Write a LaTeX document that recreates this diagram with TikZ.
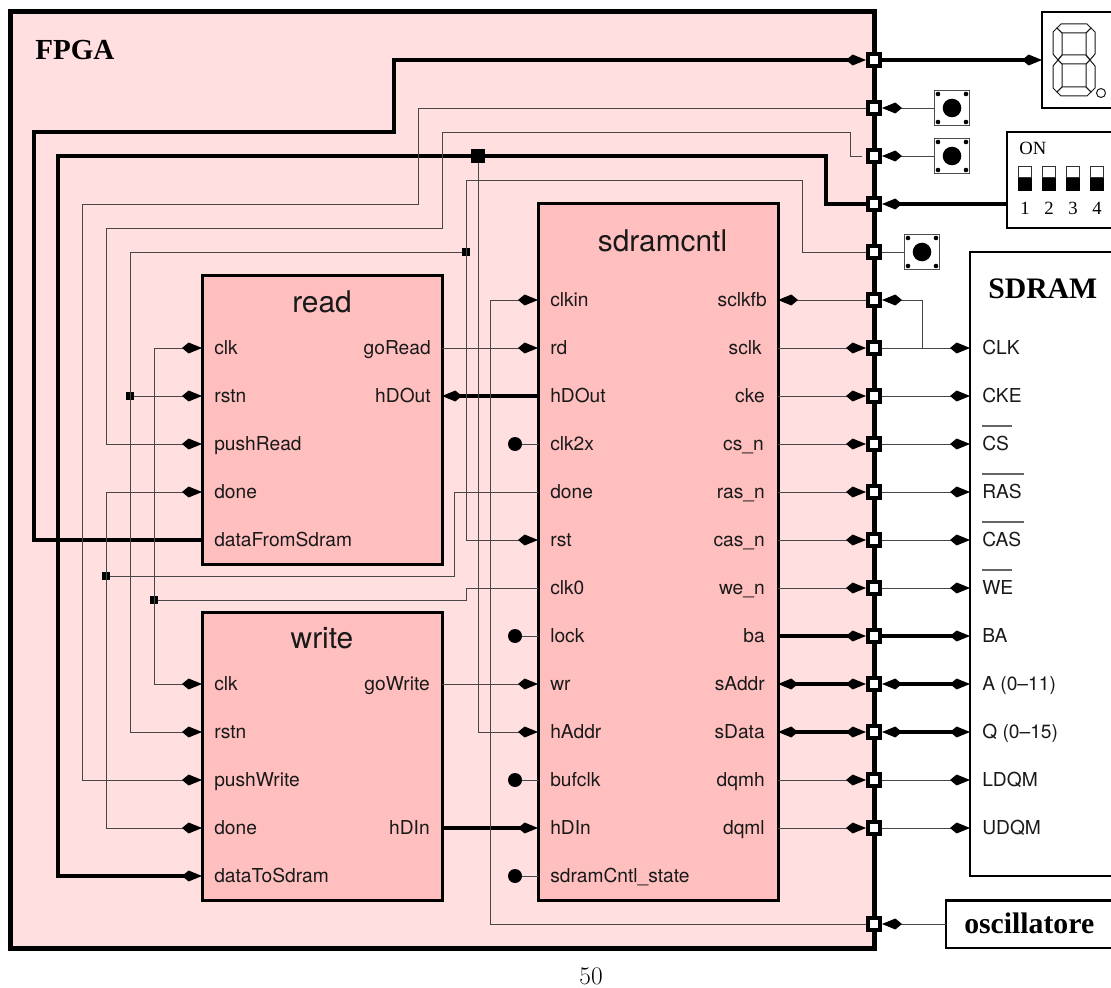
\documentclass[tikz,border=0pt]{standalone}
\usepackage{fontspec}
\setsansfont{TeX Gyre Heros}
\newfontfamily\tms{Liberation Serif}
\usetikzlibrary{arrows.meta}
\tikzset{
  kk/.tip={Kite[length=15pt,width=8.2pt,inset=5pt,color=black]},
  thinw/.style={line width=0.72pt,draw=black!72},
  busw/.style={line width=3.3pt,draw=black},
  fpga/.style={draw=black,fill=fpgac,line width=3.75pt,minimum width=648pt,minimum height=702pt,inner sep=0pt},
  block/.style={draw=black,fill=blockc,line width=2.25pt,minimum width=180pt,inner sep=0pt},
  pad/.style={draw=black,fill=white,line width=3pt,minimum size=9pt,inner sep=0pt},
  jsmall/.style={fill=black,minimum size=5.5pt,inner sep=0pt,outer sep=0pt},
  jbig/.style={fill=black,minimum size=10pt,inner sep=0pt,outer sep=0pt},
  dotc/.style={circle,fill=black,minimum size=10.5pt,inner sep=0pt,outer sep=0pt},
  pintext/.style={font=\sffamily\fontsize{14.4}{16}\selectfont,inner sep=0pt,text=black!90},
  title/.style={font=\sffamily\fontsize{22.4}{24}\selectfont,inner sep=0pt,text=black!90,anchor=base},
  bold/.style={font=\tms\bfseries\fontsize{22.3}{24}\selectfont,inner sep=0pt},
  dev/.style={draw=black,line width=2.1pt},
  seg/.style={draw=black!90,line width=0.75pt,line join=miter},
  btn/.style={draw=black!70,fill=white,line width=1.2pt,minimum size=26pt,inner sep=0pt},
  over/.style={draw=black!60,line width=1pt},
  dip/.style={font=\tms\fontsize{14}{16}\selectfont,inner sep=0pt},
}
\definecolor{fpgac}{HTML}{FFDFDF}
\definecolor{blockc}{HTML}{FFBFBF}
\newcommand{\lpin}[4]{\coordinate (#1) at (#2,#3); \node[pintext,anchor=base west] (#1-t) at (#2+12,#3+6) {#4};}
\newcommand{\rpin}[5]{\coordinate (#1) at (#2,#3); \node[pintext,anchor=base east] (#1-t) at (#4,#3+6) {#5};}
\newcommand{\tbtn}[3]{%
  \node[btn] (#1) at (#2,#3) {};
  \fill[black] (#2,#3) circle[radius=9.3];
  \fill[black] (#2-14,#3-14) circle[radius=2.3];
  \fill[black] (#2+14,#3-14) circle[radius=2.3];
  \fill[black] (#2-14,#3+14) circle[radius=2.3];
  \fill[black] (#2+14,#3+14) circle[radius=2.3];}
\newcommand{\dipsw}[2]{%
  \draw[black!80,line width=0.8pt,fill=white] (#1-6.5,166.5) rectangle (#1+6.5,178);
  \fill[black] (#1-7,178) rectangle (#1+7,191);
  \node[dip] (n#2) at (#1,208) {#2};}
\begin{document}
\begin{tikzpicture}[x=0.75pt,y=-0.75pt]
\useasboundingbox (0,0) rectangle (1111,988);
\fill[white] (0,0) rectangle (1111,988);

% FPGA
\node[fpga] (fpga) at (442,480) {};
\node[bold,anchor=base west,font=\tms\bfseries\fontsize{21.8}{24}\selectfont] (fpgat) at (35,60) {FPGA};

% Blocks
\node[block,minimum height=216pt] (read) at (322,420) {};
\node[block,minimum height=216pt] (write) at (322,756) {};
\node[block,minimum height=522pt] (sdram) at (658,552) {};
\node[title] (readt) at (322,312) {read};
\node[title] (writet) at (322,648) {write};
\node[title] (sdramt) at (662.5,252) {sdramcntl};

% Read pins
\lpin{r-clk}{202}{348}{clk}
\lpin{r-rstn}{202}{396}{rstn}
\lpin{r-push}{202}{444}{pushRead}
\lpin{r-done}{202}{492}{done}
\lpin{r-data}{202}{540}{dataFromSdram}
\rpin{r-go}{442}{348}{431}{goRead}
\rpin{r-hd}{442}{396}{431}{hDOut}

% Write pins
\lpin{w-clk}{202}{684}{clk}
\lpin{w-rstn}{202}{732}{rstn}
\lpin{w-push}{202}{780}{pushWrite}
\lpin{w-done}{202}{828}{done}
\lpin{w-data}{202}{876}{dataToSdram}
\rpin{w-go}{442}{684}{430}{goWrite}
\rpin{w-hd}{442}{828}{430}{hDIn}

% Sdramcntl pins
\lpin{s-clkin}{538}{300}{clkin}
\lpin{s-rd}{538}{348}{rd}
\lpin{s-hd}{538}{396}{hDOut}
\lpin{s-clk2x}{538}{444}{clk2x}
\lpin{s-done}{538}{492}{done}
\lpin{s-rst}{538}{540}{rst}
\lpin{s-clk0}{538}{588}{clk0}
\lpin{s-lock}{538}{636}{lock}
\lpin{s-wr}{538}{684}{wr}
\lpin{s-haddr}{538}{732}{hAddr}
\lpin{s-bufclk}{538}{780}{bufclk}
\lpin{s-hdin}{538}{828}{hDIn}
\lpin{s-state}{538}{876}{sdramCntl\_state}
\rpin{s-sclkfb}{778}{300}{767}{sclkfb}
\rpin{s-sclk}{778}{348}{762}{sclk}
\rpin{s-cke}{778}{396}{765}{cke}
\rpin{s-cs}{778}{444}{764}{cs\_n}
\rpin{s-ras}{778}{492}{765}{ras\_n}
\rpin{s-cas}{778}{540}{765}{cas\_n}
\rpin{s-we}{778}{588}{765}{we\_n}
\rpin{s-ba}{778}{636}{765}{ba}
\rpin{s-saddr}{778}{684}{765}{sAddr}
\rpin{s-sdata}{778}{732}{765}{sData}
\rpin{s-dqmh}{778}{780}{765}{dqmh}
\rpin{s-dqml}{778}{828}{765}{dqml}

% SDRAM chip (open on the right, cut by the page edge)
\draw[dev,fill=white] (1111,252) -- (970,252) -- (970,876) -- (1111,876);
\node[bold,anchor=base west] (chipt) at (988,298) {SDRAM};
\lpin{c-clk}{970}{348}{CLK}
\lpin{c-cke}{970}{396}{CKE}
\lpin{c-cs}{970}{444}{CS}
\lpin{c-ras}{970}{492}{RAS}
\lpin{c-cas}{970}{540}{CAS}
\lpin{c-we}{970}{588}{WE}
\lpin{c-ba}{970}{636}{BA}
\lpin{c-a}{970}{684}{A (0--11)}
\lpin{c-q}{970}{732}{Q (0--15)}
\lpin{c-ldqm}{970}{780}{LDQM}
\lpin{c-udqm}{970}{828}{UDQM}
\draw[over] (982,426) -- ++(30,0);
\draw[over] (982,474) -- ++(42,0);
\draw[over] (982,522) -- ++(42,0);
\draw[over] (982,570) -- ++(30,0);

% Oscillator
\draw[dev,fill=white] (1111,900.5) -- (946,900.5) -- (946,948) -- (1111,948);
\node[bold,anchor=base west] (osct) at (964,933) {oscillatore};
\coordinate (osc) at (946,924);

% 7 segment display
\draw[dev,fill=white] (1111,12) -- (1042,12) -- (1042,108) -- (1111,108);
\coordinate (disp) at (1042,60);
\draw[seg] (1057,28) -- (1061,24) -- (1087,24) -- (1091,28) -- (1086,33) -- (1062,33) -- cycle;
\draw[seg] (1057,28) -- (1053,32) -- (1053,54) -- (1058,60) -- (1062,55) -- (1062,33) -- cycle;
\draw[seg] (1091,28) -- (1095,32) -- (1095,54) -- (1090,60) -- (1086,55) -- (1086,33) -- cycle;
\draw[seg] (1058,60) -- (1062,55) -- (1086,55) -- (1090,60) -- (1086,64) -- (1062,64) -- cycle;
\draw[seg] (1058,60) -- (1053,66) -- (1053,88) -- (1057,92) -- (1062,87) -- (1062,64) -- cycle;
\draw[seg] (1090,60) -- (1095,66) -- (1095,88) -- (1091,92) -- (1086,87) -- (1086,64) -- cycle;
\draw[seg] (1057,92) -- (1061,96) -- (1087,96) -- (1091,92) -- (1086,87) -- (1062,87) -- cycle;
\draw[seg] (1101,93) circle[radius=4.5];

% DIP switch
\draw[dev,fill=white] (1111,132) -- (1007,132) -- (1007,228) -- (1111,228);
\coordinate (dipc) at (1007,204);
\node[dip,anchor=base west] (on) at (1019,155) {ON};
\dipsw{1025}{1}
\dipsw{1049}{2}
\dipsw{1073}{3}
\dipsw{1097}{4}

% Buttons
\tbtn{b1}{952}{108}
\tbtn{b2}{952}{156}
\tbtn{b3}{922}{252}

% Pads
\coordinate (p156end) at (862,156);
\foreach \y in {60,108,156,204,252,300,348,396,444,492,540,588,636,684,732,780,828,924}
  \node[pad] (p\y) at (874,\y) {};

% Junctions
\node[jbig] (jb) at (478,156) {};
\node[jsmall] (j1) at (466,252) {};
\node[jsmall] (j2) at (130,396) {};
\node[jsmall] (j3) at (106,576) {};
\node[jsmall] (j4) at (154,600) {};

% Thick nets
\draw[busw,-kk] (r-data) -- (34,540) -- (34,132) -- (394,132) -- (394,60) -- (p60.west);
\draw[busw,kk-] (w-data) -- (58,876) -- (58,156) -- (826,156) -- (826,204) -- (p204.west);
\draw[busw,-kk] (p60.east) -- (disp);
\draw[busw,-kk] (dipc) -- (p204.east);
\draw[busw,-kk] (s-hd) -- (r-hd);
\draw[busw,-kk] (w-hd) -- (s-hdin);

% Thin nets
\draw[thinw,-kk] (jb) -- (478,732) -- (s-haddr);
\draw[thinw,-kk] (p252.west) -- (802,252) -- (802,180) -- (466,180) -- (466,540) -- (s-rst);
\draw[thinw,-kk] (j1) -- (130,252) -- (130,732) -- (w-rstn);
\draw[thinw,-kk] (j2) -- (r-rstn);
\draw[thinw,-kk] (p108.west) -- (418,108) -- (418,204) -- (82,204) -- (82,780) -- (w-push);
\draw[thinw,-kk] (p156end) -- (850,156) -- (850,132) -- (442,132) -- (442,228) -- (106,228) -- (106,444) -- (r-push);
\draw[thinw,kk-kk] (r-clk) -- (154,348) -- (154,684) -- (w-clk);
\draw[thinw] (j4) -- (466,600) -- (466,588) -- (s-clk0);
\draw[thinw,kk-kk] (r-done) -- (106,492) -- (106,828) -- (w-done);
\draw[thinw] (j3) -- (454,576) -- (454,492) -- (s-done);
\draw[thinw,-kk] (p924.west) -- (490,924) -- (490,300) -- (s-clkin);
\draw[thinw,-kk] (r-go) -- (s-rd);
\draw[thinw,-kk] (w-go) -- (s-wr);

% Unconnected sdramcntl pins
\node[dotc] (d1) at (515,444) {};
\node[dotc] (d2) at (515,636) {};
\node[dotc] (d3) at (515,780) {};
\node[dotc] (d4) at (515,876) {};
\draw[thinw] (d1) -- (s-clk2x);
\draw[thinw] (d2) -- (s-lock);
\draw[thinw] (d3) -- (s-bufclk);
\draw[thinw] (d4) -- (s-state);

% Buttons and oscillator to pads
\draw[thinw,-kk] (b1.west) -- (p108.east);
\draw[thinw,-kk] (b2.west) -- (p156.east);
\draw[thinw] (b3.west) -- (p252.east);
\draw[thinw,-kk] (osc) -- (p924.east);

% Pads to sdramcntl and chip
\draw[thinw,-kk] (p300.west) -- (s-sclkfb);
\draw[thinw,-kk] (922,348) -- (922,300) -- (p300.east);
\draw[thinw,-kk] (s-sclk) -- (p348.west);
\draw[thinw,-kk] (s-cke) -- (p396.west);
\draw[thinw,-kk] (s-cs) -- (p444.west);
\draw[thinw,-kk] (s-ras) -- (p492.west);
\draw[thinw,-kk] (s-cas) -- (p540.west);
\draw[thinw,-kk] (s-we) -- (p588.west);
\draw[busw,-kk] (s-ba) -- (p636.west);
\draw[busw,kk-kk] (s-saddr) -- (p684.west);
\draw[busw,kk-kk] (s-sdata) -- (p732.west);
\draw[thinw,-kk] (s-dqmh) -- (p780.west);
\draw[thinw,-kk] (s-dqml) -- (p828.west);
\draw[thinw,-kk] (p348.east) -- (c-clk);
\draw[thinw,-kk] (p396.east) -- (c-cke);
\draw[thinw,-kk] (p444.east) -- (c-cs);
\draw[thinw,-kk] (p492.east) -- (c-ras);
\draw[thinw,-kk] (p540.east) -- (c-cas);
\draw[thinw,-kk] (p588.east) -- (c-we);
\draw[busw,-kk] (p636.east) -- (c-ba);
\draw[busw,kk-kk] (p684.east) -- (c-a);
\draw[busw,kk-kk] (p732.east) -- (c-q);
\draw[thinw,-kk] (p780.east) -- (c-ldqm);
\draw[thinw,-kk] (p828.east) -- (c-udqm);

% Page number
\node[inner sep=0pt,font=\fontsize{19}{20}\selectfont] (page) at (591,976.5) {50};
\end{tikzpicture}
\end{document}
